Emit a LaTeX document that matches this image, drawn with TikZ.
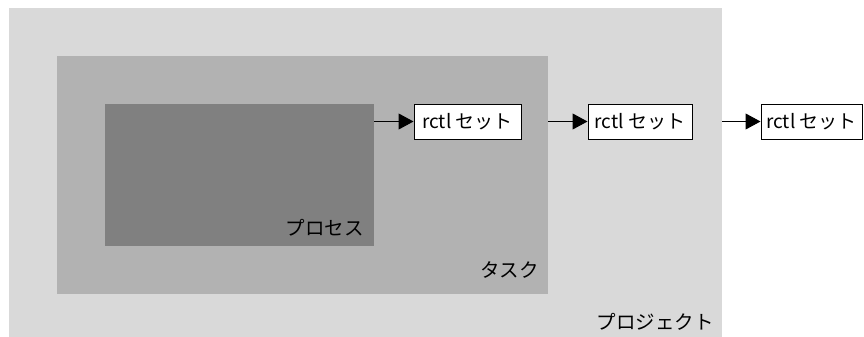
\documentclass[tikz,border=0pt]{standalone}
\usepackage{fontspec}
\setmainfont{Noto Sans CJK JP}
\usetikzlibrary{arrows.meta}
\definecolor{projgray}{RGB}{217,217,217}
\definecolor{taskgray}{RGB}{178,178,178}
\definecolor{procgray}{RGB}{128,128,128}
\tikzset{
  region/.style={draw=none, inner sep=0pt, anchor=north west},
  setbox/.style={draw=black, line width=1pt, fill=white, inner sep=0pt, minimum height=35pt, font=\fontsize{19pt}{21pt}\selectfont},
  label/.style={inner sep=0pt, anchor=base east, font=\fontsize{19.5pt}{22pt}\selectfont},
  conn/.style={line width=1pt, -{Triangle[length=15pt,width=16pt]}}
}
\begin{document}
\begin{tikzpicture}[x=1pt,y=-1pt]
\useasboundingbox (0,0) rectangle (864,337);
\node[region, fill=projgray, minimum width=713pt, minimum height=329pt] (proj) at (9,8) {};
\node[region, fill=taskgray, minimum width=491pt, minimum height=238pt] (task) at (57,56) {};
\node[region, fill=procgray, minimum width=269pt, minimum height=142pt] (proc) at (105,104) {};
\node[label] (lproc) at (364,235.5) {プロセス};
\node[label] (ltask) at (539,277.5) {タスク};
\node[label] (lproj) at (714,329.5) {プロジェクト};
\node[setbox, minimum width=107pt] (s1) at (467.5,121.5) {rctl\ セット};
\node[setbox, minimum width=104pt] (s2) at (640,121.5) {rctl\ セット};
\node[setbox, minimum width=101pt] (s3) at (811.5,121.5) {rctl\ セット};
\draw[conn] (proc.east |- s1.west) -- (s1.west);
\draw[conn] (task.east |- s2.west) -- (s2.west);
\draw[conn] (proj.east |- s3.west) -- (s3.west);
\end{tikzpicture}
\end{document}
